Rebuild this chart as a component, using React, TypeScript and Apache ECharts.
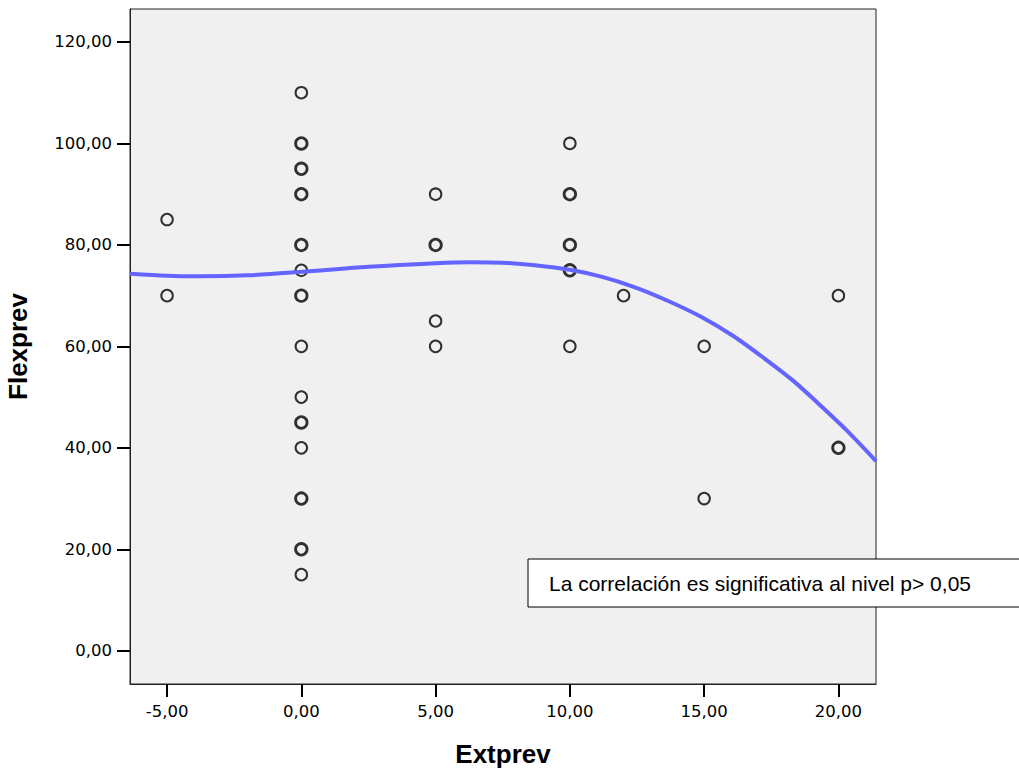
import React, { useEffect, useRef } from "react";
import * as echarts from "echarts";

// Observed data (duplicates kept; overlapping points draw bolder)
const extprev = [
  -5, -5,
  0, 0, 0, 0, 0, 0, 0, 0, 0, 0, 0, 0, 0, 0, 0, 0, 0, 0, 0, 0, 0, 0,
  5, 5, 5, 5, 5,
  10, 10, 10, 10, 10, 10, 10, 10,
  12,
  15, 15,
  20, 20, 20,
];
const flexprev = [
  85, 70,
  110, 100, 100, 95, 95, 90, 90, 80, 80, 75, 70, 70, 60, 50, 45, 45, 40, 30, 30, 20, 20, 15,
  90, 80, 80, 65, 60,
  100, 90, 90, 80, 80, 75, 75, 60,
  70,
  60, 30,
  70, 40, 40,
];

// Fitted curve
const curveX = [-6.38, -5, -3.76, -2, 0, 2.5, 5, 6.3, 7.5, 8.7, 10, 11.2, 12.4, 13.6, 14.9, 16.1, 17.3, 18.3, 19.2, 20.3, 21.4];
const curveY = [74.3, 73.9, 73.8, 74.0, 74.7, 75.7, 76.4, 76.6, 76.5, 76.0, 75.1, 73.7, 71.7, 69.1, 65.8, 62.0, 57.4, 53.3, 49.0, 43.5, 37.4];

const xTicks = [-5, 0, 5, 10, 15, 20];
const yTicks = [0, 20, 40, 60, 80, 100, 120];

const noteText = "La correlación es significativa al nivel p> 0,05";

const fmt = (v: number) => Number(v).toFixed(2).replace(".", ",");

export default function App() {
  const ref = useRef<HTMLDivElement>(null);
  useEffect(() => {
    if (!ref.current) return;
    const chart = echarts.init(ref.current, undefined, { renderer: "svg" });

    const counts = new Map<string, { x: number; y: number; n: number }>();
    extprev.forEach((x, i) => {
      const key = x + "|" + flexprev[i];
      const e = counts.get(key);
      if (e) e.n += 1;
      else counts.set(key, { x, y: flexprev[i], n: 1 });
    });
    const scatterData = Array.from(counts.values()).map((p) => ({
      value: [p.x, p.y],
      itemStyle: { borderWidth: p.n > 1 ? 2.8 : 2 },
    }));

    const tickFont = { fontFamily: "DejaVu Sans", fontSize: 16.5, color: "#000" };
    const nameFont = { fontFamily: "Liberation Sans", fontWeight: "bold" as const, fontSize: 26, color: "#000" };

    chart.setOption({
      animation: false,
      backgroundColor: "#ffffff",
      grid: {
        left: 130,
        top: 9,
        width: 746,
        height: 675,
        outerBoundsMode: "none",
        containLabel: false,
        show: true,
        backgroundColor: "#f0f0f0",
        borderColor: "#222",
        borderWidth: 1,
      },
      xAxis: {
        type: "value",
        min: -6.38,
        max: 21.4,
        name: "Extprev",
        nameLocation: "middle",
        nameGap: 57,
        nameTextStyle: nameFont,
        axisLine: { show: true, onZero: false, lineStyle: { color: "#222", width: 1 } },
        axisTick: { show: true, length: 13, customValues: xTicks, lineStyle: { color: "#000", width: 2 } },
        axisLabel: { customValues: xTicks, formatter: fmt, margin: 19, ...tickFont },
        splitLine: { show: false },
      },
      yAxis: {
        type: "value",
        min: -6.55,
        max: 126.5,
        name: "Flexprev",
        nameLocation: "middle",
        nameGap: 99,
        nameTextStyle: nameFont,
        axisLine: { show: true, onZero: false, lineStyle: { color: "#222", width: 1 } },
        axisTick: { show: true, length: 13, customValues: yTicks, lineStyle: { color: "#000", width: 2 } },
        axisLabel: { customValues: yTicks, formatter: fmt, margin: 18, ...tickFont },
        splitLine: { show: false },
      },
      series: [
        {
          type: "scatter",
          symbol: "circle",
          symbolSize: 11.5,
          data: scatterData,
          itemStyle: { color: "rgba(0,0,0,0)", borderColor: "#000", borderWidth: 2 },
          z: 2,
        },
        {
          type: "line",
          data: curveX.map((x, i) => [x, curveY[i]]),
          showSymbol: false,
          symbol: "none",
          smooth: 0.3,
          lineStyle: { color: "#6464ff", width: 4 },
          z: 3,
        },
      ],
      graphic: [
        {
          type: "rect",
          shape: { x: 528, y: 559, width: 520, height: 48 },
          style: { fill: "#ffffff", stroke: "#000", lineWidth: 1 },
          z: 10,
        },
        {
          type: "text",
          x: 549,
          y: 583,
          style: {
            text: noteText,
            fontFamily: "Liberation Sans",
            fontSize: 21,
            fill: "#000",
            verticalAlign: "middle",
          },
          z: 11,
        },
      ],
    });
    return () => chart.dispose();
  }, []);
  return (
    <div
      ref={ref}
      style={{ position: "fixed", left: 0, top: 0, width: 1019, height: 769 }}
    />
  );
}
